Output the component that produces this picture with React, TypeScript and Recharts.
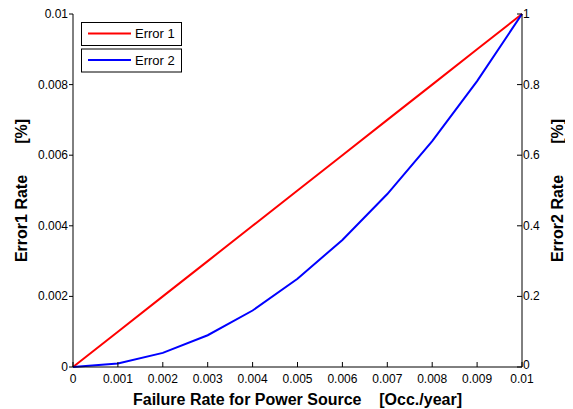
import React from "react";
import { LineChart, Line, XAxis, YAxis, Legend, Label } from "recharts";

const failureRate = [0, 0.001, 0.002, 0.003, 0.004, 0.005, 0.006, 0.007, 0.008, 0.009, 0.01];
const error1 = [0, 0.001, 0.002, 0.003, 0.004, 0.005, 0.006, 0.007, 0.008, 0.009, 0.01];
const error2 = [0, 0.01, 0.04, 0.09, 0.16, 0.25, 0.36, 0.49, 0.64, 0.81, 1.0];
const xTicks = [0, 0.001, 0.002, 0.003, 0.004, 0.005, 0.006, 0.007, 0.008, 0.009, 0.01];
const leftTicks = [0, 0.002, 0.004, 0.006, 0.008, 0.01];
const rightTicks = [0, 0.2, 0.4, 0.6, 0.8, 1];
const seriesNames = ["Error 1", "Error 2"];
const seriesColors = ["#ff0000", "#0000ff"];
const xTitle = "Failure Rate for Power Source    [Occ./year]";
const leftTitle = "Error1 Rate       [%]";
const rightTitle = "Error2 Rate       [%]";

const data = failureRate.map((x, i) => ({ x, e1: error1[i], e2: error2[i] }));

const FONT = '"Liberation Sans", Arial, Helvetica, sans-serif';

const BottomTick = (p: any) => (
  <g>
    <line x1={p.x} y1={p.y} x2={p.x} y2={p.y - 5} stroke="#000" />
    <text x={p.x} y={p.y + 16} textAnchor="middle" fontSize={12} fontFamily={FONT} fill="#000">
      {String(p.payload.value)}
    </text>
  </g>
);
const TopTick = (p: any) => (
  <line x1={p.x} y1={p.y} x2={p.x} y2={p.y + 5} stroke="#000" />
);
const LeftTick = (p: any) => (
  <g>
    <line x1={p.x - 4} y1={p.y} x2={p.x} y2={p.y} stroke="#000" />
    <text x={p.x - 5} y={p.y + 4} textAnchor="end" fontSize={12} fontFamily={FONT} fill="#000">
      {String(p.payload.value)}
    </text>
  </g>
);
const RightTick = (p: any) => (
  <g>
    <line x1={p.x - 5} y1={p.y} x2={p.x} y2={p.y} stroke="#000" />
    <text x={p.x + 1} y={p.payload.value === 0 ? p.y + 2 : p.y + 4} textAnchor="start" fontSize={12} fontFamily={FONT} fill="#000">
      {String(p.payload.value)}
    </text>
  </g>
);

const titleStyle: any = { whiteSpace: "pre" };

const LegendBoxes = () => (
  <svg width={104} height={54} style={{ display: "block" }}>
    {seriesNames.map((name, i) => (
      <g key={name} transform={`translate(0, ${i * 26.5})`}>
        <rect x={0.5} y={0.5} width={100} height={23} fill="#fff" stroke="#000" />
        <line x1={7} y1={11.5} x2={50} y2={11.5} stroke={seriesColors[i]} strokeWidth={2} />
        <text x={54} y={16} fontSize={13} fontFamily={FONT} fill="#000">{name}</text>
      </g>
    ))}
  </svg>
);

export default function App() {
  return (
    <LineChart
      width={565}
      height={401}
      data={data}
      margin={{ top: 6, right: 0, bottom: 0, left: 0 }}
      style={{ fontFamily: FONT }}
    >
      <XAxis
        xAxisId="b"
        dataKey="x"
        type="number"
        domain={[0, 0.01]}
        ticks={xTicks}
        interval={0}
        tickSize={0}
        tickMargin={0}
        tickLine={false}
        tick={<BottomTick />}
        axisLine={{ stroke: "#000" }}
        height={42}
      >
        <Label
          content={(props: any) => {
            const vb = props.viewBox;
            return (
              <text x={vb.x + vb.width / 2} y={vb.y + 38} textAnchor="middle" fontSize={16} fontWeight="bold" fontFamily={FONT} fill="#000" style={titleStyle}>
                {xTitle}
              </text>
            );
          }}
        />
      </XAxis>
      <XAxis
        xAxisId="t"
        dataKey="x"
        type="number"
        orientation="top"
        domain={[0, 0.01]}
        ticks={xTicks}
        interval={0}
        tickSize={0}
        tickMargin={0}
        tickLine={false}
        tick={<TopTick />}
        axisLine={{ stroke: "#000" }}
        height={0}
      />
      <YAxis
        yAxisId="l"
        type="number"
        domain={[0, 0.01]}
        ticks={leftTicks}
        interval={0}
        tickSize={0}
        tickMargin={0}
        tickLine={false}
        tick={<LeftTick />}
        axisLine={{ stroke: "#000" }}
        width={65}
      >
        <Label
          content={(props: any) => {
            const vb = props.viewBox;
            const cx = vb.x + 19;
            const cy = vb.y + vb.height / 2;
            return (
              <text x={cx} y={cy} transform={`rotate(-90, ${cx}, ${cy})`} textAnchor="middle" fontSize={16} fontWeight="bold" fontFamily={FONT} fill="#000" style={titleStyle}>
                {leftTitle}
              </text>
            );
          }}
        />
      </YAxis>
      <YAxis
        yAxisId="r"
        orientation="right"
        type="number"
        domain={[0, 1]}
        ticks={rightTicks}
        interval={0}
        tickSize={0}
        tickMargin={0}
        tickLine={false}
        tick={<RightTick />}
        axisLine={{ stroke: "#000" }}
        width={51}
      >
        <Label
          content={(props: any) => {
            const vb = props.viewBox;
            const cx = vb.x + 41;
            const cy = vb.y + vb.height / 2;
            return (
              <text x={cx} y={cy} transform={`rotate(-90, ${cx}, ${cy})`} textAnchor="middle" fontSize={16} fontWeight="bold" fontFamily={FONT} fill="#000" style={titleStyle}>
                {rightTitle}
              </text>
            );
          }}
        />
      </YAxis>
      <Legend
        layout="horizontal"
        verticalAlign="middle"
        align="center"
        content={() => <LegendBoxes />}
        wrapperStyle={{ position: "absolute", left: 73, top: 14, width: 104, height: 54 }}
      />
      <Line
        xAxisId="b"
        yAxisId="l"
        dataKey="e1"
        name={seriesNames[0]}
        stroke={seriesColors[0]}
        strokeWidth={2}
        dot={false}
        isAnimationActive={false}
      />
      <Line
        xAxisId="b"
        yAxisId="r"
        dataKey="e2"
        name={seriesNames[1]}
        stroke={seriesColors[1]}
        strokeWidth={2}
        dot={false}
        isAnimationActive={false}
      />
    </LineChart>
  );
}
